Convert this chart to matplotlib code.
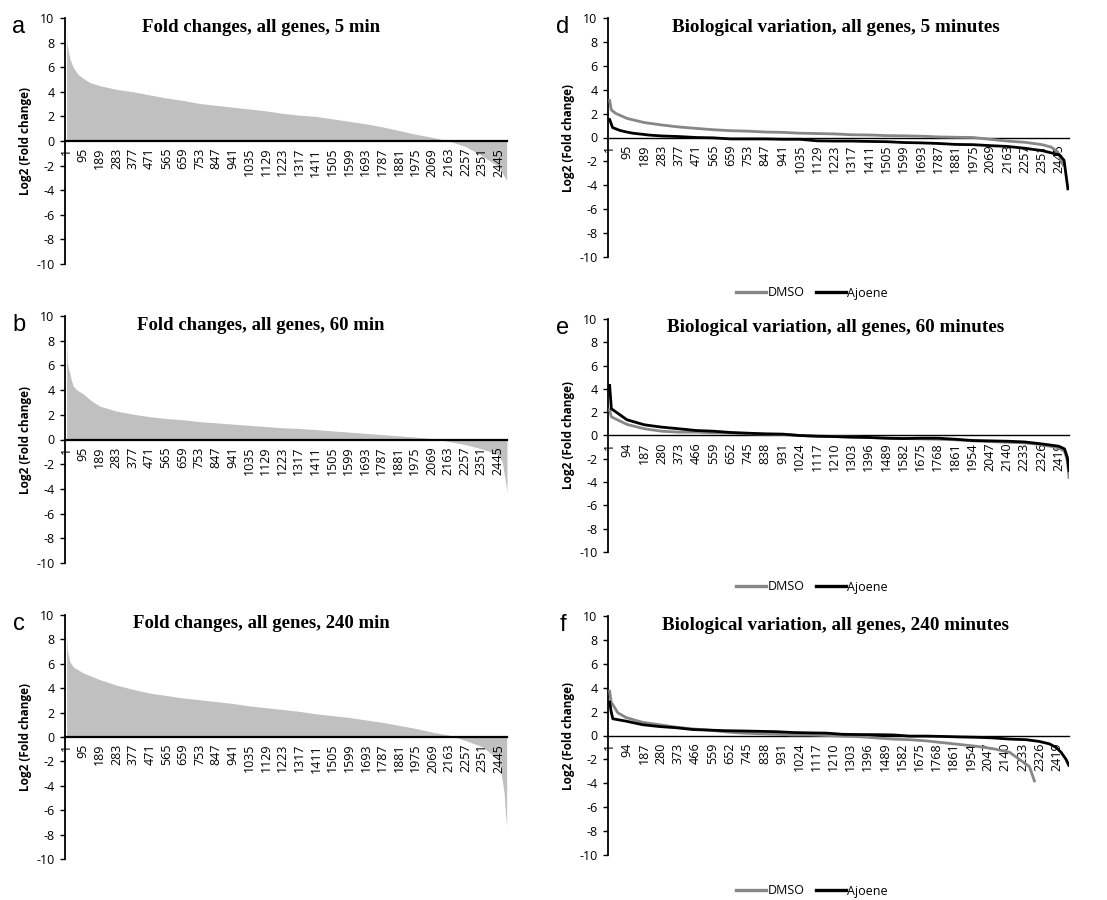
import matplotlib
matplotlib.use("Agg")
import matplotlib.pyplot as plt
from matplotlib.lines import Line2D

# ---- data (gene rank, log2 fold change) ----
# left column: fold changes, all genes
fc5_genes = [1, 3, 6, 19, 38, 66, 95, 133, 189, 283, 377, 471, 565, 659, 753, 847, 941,
             1035, 1129, 1223, 1317, 1411, 1505, 1599, 1693, 1787, 1881, 1975, 2069,
             2163, 2257, 2351, 2445, 2490]
fc5_vals = [9.2, 8.0, 7.7, 6.7, 6.0, 5.4, 5.1, 4.75, 4.5, 4.2, 4.0, 3.75, 3.5, 3.3, 3.05,
            2.9, 2.75, 2.6, 2.45, 2.25, 2.1, 2.0, 1.8, 1.6, 1.4, 1.15, 0.85, 0.55, 0.3,
            0.0, -0.45, -1.2, -2.1, -3.2]

fc60_genes = [1, 3, 6, 12, 19, 28, 38, 60, 95, 140, 189, 283, 377, 471, 565, 659, 753,
              847, 941, 1035, 1129, 1223, 1317, 1411, 1505, 1599, 1693, 1787, 1881, 1975,
              2069, 2163, 2257, 2351, 2445, 2470, 2497]
fc60_vals = [9.2, 7.5, 6.25, 5.7, 5.4, 4.8, 4.35, 4.0, 3.7, 3.15, 2.7, 2.3, 2.05, 1.85,
             1.7, 1.6, 1.45, 1.35, 1.25, 1.15, 1.05, 0.95, 0.9, 0.8, 0.7, 0.6, 0.5, 0.4,
             0.3, 0.2, 0.08, -0.15, -0.4, -0.75, -1.2, -1.8, -4.2]

fc240_genes = [1, 6, 19, 38, 95, 189, 283, 377, 471, 565, 659, 753, 847, 941, 1035, 1129,
               1223, 1317, 1411, 1505, 1599, 1693, 1787, 1881, 1975, 2069, 2163, 2257,
               2351, 2445, 2460, 2474, 2480, 2488]
fc240_vals = [8.5, 7.1, 6.2, 5.75, 5.25, 4.7, 4.25, 3.9, 3.6, 3.4, 3.2, 3.05, 2.9, 2.75,
              2.55, 2.4, 2.25, 2.1, 1.9, 1.75, 1.6, 1.4, 1.2, 0.95, 0.7, 0.4, 0.15, -0.3,
              -0.8, -1.9, -3.3, -4.6, -6.0, -7.3]

# right column: biological variation, DMSO vs Ajoene
bv5_dmso_genes = [1, 10, 36, 95, 189, 283, 377, 471, 565, 659, 753, 847, 941, 1035, 1129,
                  1223, 1317, 1411, 1505, 1599, 1693, 1787, 1881, 1975, 2069, 2163, 2257,
                  2351, 2400, 2435, 2465]
bv5_dmso_vals = [3.1, 2.3, 2.0, 1.6, 1.25, 1.05, 0.88, 0.76, 0.65, 0.57, 0.53, 0.46, 0.43,
                 0.36, 0.33, 0.3, 0.23, 0.21, 0.16, 0.14, 0.11, 0.05, 0.02, 0.0, -0.15,
                 -0.3, -0.4, -0.6, -0.8, -1.2, -2.3]
bv5_ajo_genes = [1, 17, 55, 90, 126, 218, 283, 377, 471, 565, 659, 753, 847, 941, 1035,
                 1129, 1223, 1317, 1411, 1505, 1599, 1693, 1787, 1881, 1975, 2069, 2163,
                 2257, 2351, 2445, 2470, 2491]
bv5_ajo_vals = [1.5, 0.83, 0.6, 0.47, 0.36, 0.2, 0.13, 0.08, 0.0, -0.03, -0.12, -0.12,
                -0.12, -0.15, -0.15, -0.28, -0.3, -0.3, -0.33, -0.35, -0.42, -0.45, -0.5,
                -0.58, -0.6, -0.68, -0.75, -0.9, -1.1, -1.45, -1.9, -4.3]

bv60_genes = [1, 10, 94, 187, 280, 373, 466, 559, 652, 745, 838, 931, 1024, 1117, 1210,
              1303, 1396, 1489, 1582, 1675, 1768, 1861, 1954, 2047, 2140, 2233, 2326,
              2419, 2450, 2465, 2474]
bv60_dmso_vals = [2.2, 1.6, 0.95, 0.58, 0.37, 0.29, 0.29, 0.23, 0.2, 0.15, 0.12, 0.09,
                  0.0, -0.06, -0.09, -0.14, -0.17, -0.23, -0.26, -0.29, -0.32, -0.37,
                  -0.46, -0.52, -0.58, -0.63, -0.78, -1.07, -1.35, -2.16, -3.6]
bv60_ajo_vals = [4.3, 2.3, 1.35, 0.92, 0.72, 0.58, 0.43, 0.37, 0.26, 0.2, 0.14, 0.12,
                 0.0, -0.06, -0.09, -0.14, -0.17, -0.23, -0.26, -0.23, -0.23, -0.32,
                 -0.43, -0.46, -0.49, -0.55, -0.72, -0.92, -1.15, -1.87, -3.0]

bv240_dmso_genes = [1, 9, 45, 90, 180, 270, 360, 450, 540, 630, 720, 811, 901, 991, 1081,
                    1171, 1261, 1351, 1441, 1532, 1622, 1712, 1802, 1892, 1982, 2072,
                    2162, 2207, 2234, 2270, 2297]
bv240_dmso_vals = [3.7, 2.8, 1.9, 1.5, 1.1, 0.9, 0.7, 0.55, 0.45, 0.3, 0.2, 0.15, 0.1,
                   0.05, 0.05, 0.0, -0.05, -0.1, -0.2, -0.3, -0.35, -0.45, -0.6, -0.75,
                   -0.9, -1.1, -1.4, -1.9, -2.2, -2.6, -3.8]
bv240_ajo_genes = [1, 9, 18, 90, 180, 270, 360, 450, 540, 630, 720, 811, 901, 991, 1081,
                   1171, 1261, 1351, 1441, 1532, 1622, 1712, 1802, 1892, 1982, 2072, 2162,
                   2252, 2324, 2378, 2414, 2441, 2468, 2483]
bv240_ajo_vals = [2.8, 2.0, 1.4, 1.2, 0.9, 0.75, 0.65, 0.5, 0.45, 0.4, 0.38, 0.35, 0.32,
                  0.25, 0.22, 0.2, 0.1, 0.08, 0.07, 0.05, -0.05, -0.05, -0.08, -0.12,
                  -0.15, -0.2, -0.3, -0.35, -0.5, -0.7, -1.0, -1.4, -2.0, -2.5]

left_ticks = list(range(1, 2446, 94))
right_ticks_d = list(range(1, 2446, 94))
right_ticks_ef = list(range(1, 2420, 93))
yticks = list(range(-10, 11, 2))

TICK_FONT = "Open Sans"
TITLE_FONT = "Liberation Serif"

fig = plt.figure(figsize=(11.07, 9.0), dpi=100)


def px_axes(x0, y0, x1, y1):
    # axes from pixel box (top-left origin)
    W, H = 1107.0, 900.0
    return fig.add_axes([x0 / W, 1 - y1 / H, (x1 - x0) / W, (y1 - y0) / H])


def style_axes(ax, ticks, xmax, zero_lw):
    # spine position first: it resets the ticks
    for s in ["top", "right"]:
        ax.spines[s].set_visible(False)
    ax.spines["bottom"].set_position(("data", 0))
    ax.spines["bottom"].set_linewidth(zero_lw)
    ax.spines["bottom"].set_color("black")
    ax.spines["left"].set_linewidth(1.3)
    ax.set_ylim(-10, 10)
    ax.set_xlim(-8, xmax)
    ax.set_yticks(yticks)
    ax.set_xticks(ticks)
    ax.set_xticklabels([str(t) for t in ticks], fontfamily=TICK_FONT, fontsize=9)
    ax.set_yticklabels([str(t) for t in yticks], fontfamily=TICK_FONT, fontsize=9)
    ax.tick_params(axis="x", length=0, pad=5, labelrotation=90)
    ax.tick_params(axis="y", length=3.5, width=1.0, pad=4)
    ax.set_ylabel("Log2 (Fold change)", fontfamily=TICK_FONT, fontweight="bold",
                  fontsize=8.5, labelpad=3)
    ax.patch.set_visible(False)


# left column
left_panels = [
    (18, 264, fc5_genes, fc5_vals, "Fold changes, all genes, 5 min", "a", 2492),
    (316, 563, fc60_genes, fc60_vals, "Fold changes, all genes, 60 min", "b", 2497),
    (615, 859, fc240_genes, fc240_vals, "Fold changes, all genes, 240 min", "c", 2490),
]
for y0, y1, g, v, title, letter, xmax in left_panels:
    ax = px_axes(65, y0, 507, y1)
    ax.fill_between(g, v, 0, color="#c0c0c0", linewidth=0)
    style_axes(ax, left_ticks, xmax, 1.6)
    fig.text(261 / 1107, 1 - (y0 + 9) / 900, title, fontfamily=TITLE_FONT,
             fontweight="bold", fontsize=13.5, ha="center", va="center")
    fig.text(19 / 1107, 1 - (y0 + 9) / 900, letter, fontfamily="Liberation Sans",
             fontsize=17, ha="center", va="center")

# right column
right_panels = [
    (18, 257, bv5_dmso_genes, bv5_dmso_vals, bv5_ajo_genes, bv5_ajo_vals,
     "Biological variation, all genes, 5 minutes", "d", right_ticks_d, 2497, 293),
    (319, 552, bv60_genes, bv60_dmso_vals, bv60_genes, bv60_ajo_vals,
     "Biological variation, all genes, 60 minutes", "e", right_ticks_ef, 2474, 587),
    (616, 855, bv240_dmso_genes, bv240_dmso_vals, bv240_ajo_genes, bv240_ajo_vals,
     "Biological variation, all genes, 240 minutes", "f", right_ticks_ef, 2484, 891),
]
for y0, y1, gd, vd, ga, va, title, letter, ticks, xmax, leg_y in right_panels:
    ax = px_axes(608, y0, 1069, y1)
    style_axes(ax, ticks, xmax, 1.0)
    ax.plot(gd, vd, color="#878787", lw=2.0, zorder=3)
    ax.plot(ga, va, color="black", lw=2.0, zorder=3)
    fig.text(836 / 1107, 1 - (y0 + 9) / 900, title, fontfamily=TITLE_FONT,
             fontweight="bold", fontsize=13.8, ha="center", va="center")
    fig.text(563 / 1107, 1 - (y0 + 9) / 900, letter, fontfamily="Liberation Sans",
             fontsize=17, ha="center", va="center")
    handles = [Line2D([], [], color="#878787", lw=2.4),
               Line2D([], [], color="black", lw=2.4)]
    ax.legend(handles, ["DMSO", "Ajoene"], loc="center",
              bbox_to_anchor=(812 / 1107, 1 - leg_y / 900),
              bbox_transform=fig.transFigure, ncol=2, frameon=False,
              handlelength=2.4, handletextpad=0.1, columnspacing=0.9,
              prop={"family": TICK_FONT, "size": 9})

fig.savefig("out.png", dpi=100)
